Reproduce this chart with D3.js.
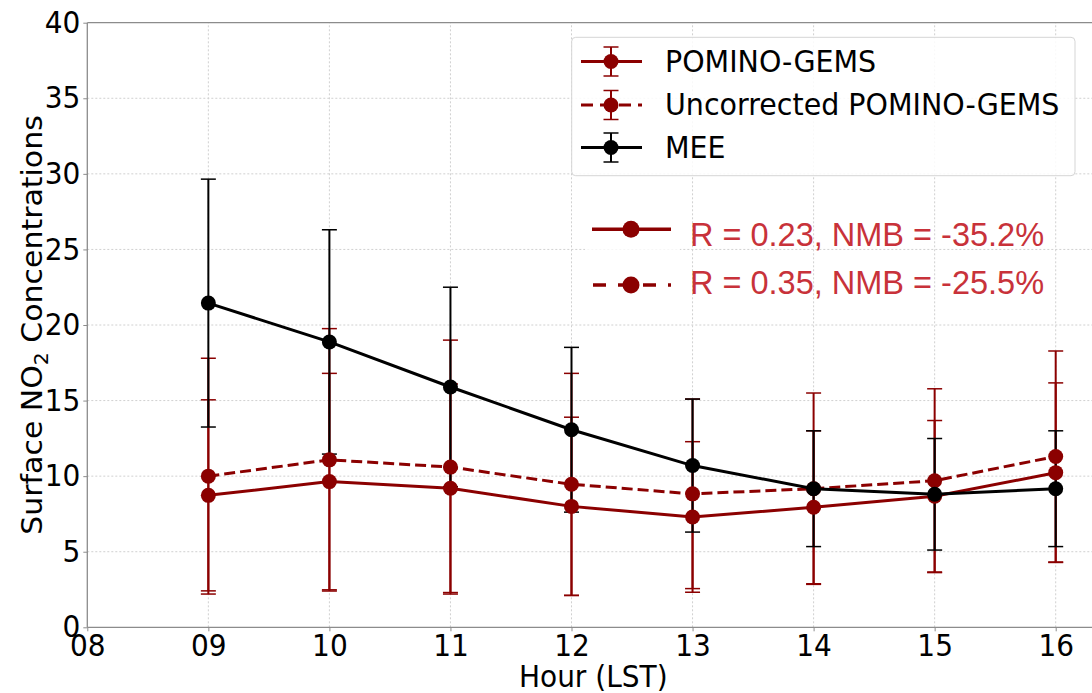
<!DOCTYPE html>
<html>
<head>
<meta charset="utf-8">
<script src="https://cdn.jsdelivr.net/npm/d3@7"></script>
<style>
  body { margin: 0; background: #fff; }
  svg { display: block; font-family: "DejaVu Sans", sans-serif; }
</style>
</head>
<body>
<div id="vis"></div>
<script>
// hours and tick labels
var hours = [9, 10, 11, 12, 13, 14, 15, 16];
var xTicks = [8, 9, 10, 11, 12, 13, 14, 15, 16];
var xTickLabels = ['08', '09', '10', '11', '12', '13', '14', '15', '16'];
var yTicks = [0, 5, 10, 15, 20, 25, 30, 35, 40];

// series (mean and std)
var pominoMean = [8.73, 9.64, 9.2, 8.0, 7.3, 7.94, 8.67, 10.23];
var pominoStd = [6.32, 7.16, 6.9, 5.9, 4.98, 5.06, 5.01, 5.94];
var uncorrMean = [10.0, 11.08, 10.6, 9.46, 8.83, 9.17, 9.7, 11.3];
var uncorrStd = [7.8, 8.68, 8.4, 7.34, 6.27, 6.33, 6.08, 6.98];
var meeMean = [21.45, 18.88, 15.9, 13.07, 10.7, 9.17, 8.8, 9.17];
var meeStd = [8.2, 7.42, 6.6, 5.45, 4.4, 3.83, 3.69, 3.83];

var legendNames = ['POMINO-GEMS', 'Uncorrected POMINO-GEMS', 'MEE'];
var statLabels = ['R = 0.23, NMB = -35.2%', 'R = 0.35, NMB = -25.5%'];

var width = 1092, height = 693;
var margin = { top: 22.7, bottom: 65.7, left: 87.3 };
var sy = 1.07; // text in the picture is a bit taller than wide

var svg = d3.select('#vis')
    .append('svg')
    .attr('width', width)
    .attr('height', height);

var x_scale = d3.scaleLinear()
    .domain([8, 16])
    .range([margin.left, 1055.7]);

var y_scale = d3.scaleLinear()
    .domain([0, 40])
    .range([height - margin.bottom, margin.top]);

function stretch(sel, ox, oy) {
    sel.attr('transform', 'translate(' + ox + ',' + oy + ') scale(1,' + sy + ') translate(' + (-ox) + ',' + (-oy) + ')');
}

var red = '#8b0000';
var series = [
    { mean: pominoMean, std: pominoStd, color: red, dash: null },
    { mean: uncorrMean, std: uncorrStd, color: red, dash: '11,5' },
    { mean: meeMean, std: meeStd, color: '#000', dash: null }
];

// grid
var grid = svg.append('g').attr('class', 'grid');
grid.selectAll('.gx')
    .data(xTicks.slice(1))
    .enter()
    .append('line')
    .attr('x1', function (d) { return x_scale(d); })
    .attr('x2', function (d) { return x_scale(d); })
    .attr('y1', y_scale(0))
    .attr('y2', y_scale(40))
    .attr('stroke', '#d0d0d0')
    .attr('stroke-width', 1)
    .attr('stroke-dasharray', '2,2');
grid.selectAll('.gy')
    .data(yTicks.slice(1, -1))
    .enter()
    .append('line')
    .attr('x1', margin.left)
    .attr('x2', width)
    .attr('y1', function (d) { return y_scale(d); })
    .attr('y2', function (d) { return y_scale(d); })
    .attr('stroke', '#d0d0d0')
    .attr('stroke-width', 1)
    .attr('stroke-dasharray', '2,2');

// axes
var x_axis = d3.axisBottom(x_scale)
    .tickValues(xTicks)
    .tickFormat(function (d, i) { return xTickLabels[i]; })
    .tickSize(4)
    .tickPadding(3);
var y_axis = d3.axisLeft(y_scale)
    .tickValues(yTicks)
    .tickSize(4)
    .tickPadding(3);

var gx = svg.append('g')
    .attr('class', 'x axis')
    .attr('transform', 'translate(0,' + y_scale(0) + ')')
    .call(x_axis);
var gy = svg.append('g')
    .attr('class', 'y axis')
    .attr('transform', 'translate(' + margin.left + ',0)')
    .call(y_axis);

[gx, gy].forEach(function (g) {
    g.select('.domain').remove();
    g.selectAll('line').attr('stroke', '#8c8c8c');
    g.selectAll('text')
        .attr('font-family', '"DejaVu Sans", sans-serif')
        .attr('font-size', 28)
        .attr('fill', '#000');
});
stretch(gx.selectAll('text'), 0, 7);
stretch(gy.selectAll('text'), 0, 0);

// frame
svg.append('line')
    .attr('x1', margin.left).attr('x2', width)
    .attr('y1', y_scale(0)).attr('y2', y_scale(0))
    .attr('stroke', '#8c8c8c').attr('stroke-width', 1.3);
svg.append('line')
    .attr('x1', margin.left).attr('x2', width)
    .attr('y1', y_scale(40)).attr('y2', y_scale(40))
    .attr('stroke', '#8c8c8c').attr('stroke-width', 1.3);
svg.append('line')
    .attr('x1', margin.left).attr('x2', margin.left)
    .attr('y1', y_scale(0)).attr('y2', y_scale(40))
    .attr('stroke', '#8c8c8c').attr('stroke-width', 1.3);

// axis titles
var xlab = svg.append('text')
    .attr('x', x_scale(12.18))
    .attr('y', 687)
    .attr('text-anchor', 'middle')
    .attr('font-size', 28)
    .text('Hour (LST)');
stretch(xlab, x_scale(12.18), 687);

var ylab = svg.append('text')
    .attr('transform', 'translate(42,325) scale(1,' + sy + ') rotate(-90)')
    .attr('text-anchor', 'middle')
    .attr('font-size', 28);
ylab.append('tspan').text('Surface NO');
ylab.append('tspan').attr('font-size', 19).attr('dy', 6).text('2');
ylab.append('tspan').attr('dy', -6).text(' Concentrations');

// error bars first (drawn below data lines)
var capW = 7.5;
series.forEach(function (s) {
    var eb = svg.append('g').attr('class', 'errorbars');
    hours.forEach(function (h, i) {
        var cx = x_scale(h);
        var lo = y_scale(s.mean[i] - s.std[i]);
        var hi = y_scale(s.mean[i] + s.std[i]);
        eb.append('line')
            .attr('x1', cx).attr('x2', cx)
            .attr('y1', lo).attr('y2', hi)
            .attr('stroke', s.color).attr('stroke-width', 2);
        [lo, hi].forEach(function (yy) {
            eb.append('line')
                .attr('x1', cx - capW).attr('x2', cx + capW)
                .attr('y1', yy).attr('y2', yy)
                .attr('stroke', s.color).attr('stroke-width', 1.5);
        });
    });
});

// lines and markers
var line = d3.line()
    .x(function (d, i) { return x_scale(hours[i]); })
    .y(function (d) { return y_scale(d); });

series.forEach(function (s) {
    svg.append('path')
        .datum(s.mean)
        .attr('d', line)
        .attr('fill', 'none')
        .attr('stroke', s.color)
        .attr('stroke-width', 3)
        .attr('stroke-dasharray', s.dash);
    svg.selectAll(null)
        .data(s.mean)
        .enter()
        .append('circle')
        .attr('cx', function (d, i) { return x_scale(hours[i]); })
        .attr('cy', function (d) { return y_scale(d); })
        .attr('r', 7.5)
        .attr('fill', s.color);
});

// legend
var lg = svg.append('g').attr('class', 'legend');
lg.append('rect')
    .attr('x', 571.7).attr('y', 37.3)
    .attr('width', 503.3).attr('height', 138.4)
    .attr('rx', 4)
    .attr('fill', '#fff').attr('fill-opacity', 0.85)
    .attr('stroke', '#d5d5d5').attr('stroke-width', 1);

var rowY = [61.5, 105, 147.5];
series.forEach(function (s, i) {
    var yy = rowY[i];
    lg.append('line')
        .attr('x1', 581).attr('x2', 642)
        .attr('y1', yy).attr('y2', yy)
        .attr('stroke', s.color).attr('stroke-width', 3)
        .attr('stroke-dasharray', s.dash ? '12,7' : null);
    lg.append('line')
        .attr('x1', 611).attr('x2', 611)
        .attr('y1', yy - 14.5).attr('y2', yy + 14.5)
        .attr('stroke', s.color).attr('stroke-width', 2);
    [yy - 14.5, yy + 14.5].forEach(function (c) {
        lg.append('line')
            .attr('x1', 611 - capW).attr('x2', 611 + capW)
            .attr('y1', c).attr('y2', c)
            .attr('stroke', s.color).attr('stroke-width', 1.5);
    });
    lg.append('circle')
        .attr('cx', 611).attr('cy', yy).attr('r', 7.5)
        .attr('fill', s.color);
    var t = lg.append('text')
        .attr('x', 665).attr('y', yy + 10.3)
        .attr('font-size', 28.5)
        .text(legendNames[i]);
    stretch(t, 665, yy + 10.3);
});

// stats box
var st = svg.append('g').attr('class', 'stats');
st.append('rect')
    .attr('x', 585).attr('y', 206)
    .attr('width', 95).attr('height', 100)
    .attr('fill', '#fff').attr('fill-opacity', 0.8);
var statY = [229.3, 285];
series.slice(0, 2).forEach(function (s, i) {
    st.append('line')
        .attr('x1', 592).attr('x2', 671)
        .attr('y1', statY[i]).attr('y2', statY[i])
        .attr('stroke', s.color).attr('stroke-width', 3.5)
        .attr('stroke-dasharray', s.dash ? '13,12' : null)
        .attr('stroke-dashoffset', s.dash ? -1 : null);
    st.append('circle')
        .attr('cx', 631).attr('cy', statY[i]).attr('r', 8.5)
        .attr('fill', s.color);
    st.append('text')
        .attr('x', 690).attr('y', [246, 294][i])
        .attr('font-family', '"Liberation Sans", Arial, sans-serif')
        .attr('font-size', 32.5)
        .attr('fill', '#c8323a')
        .text(statLabels[i]);
});
</script>
</body>
</html>
